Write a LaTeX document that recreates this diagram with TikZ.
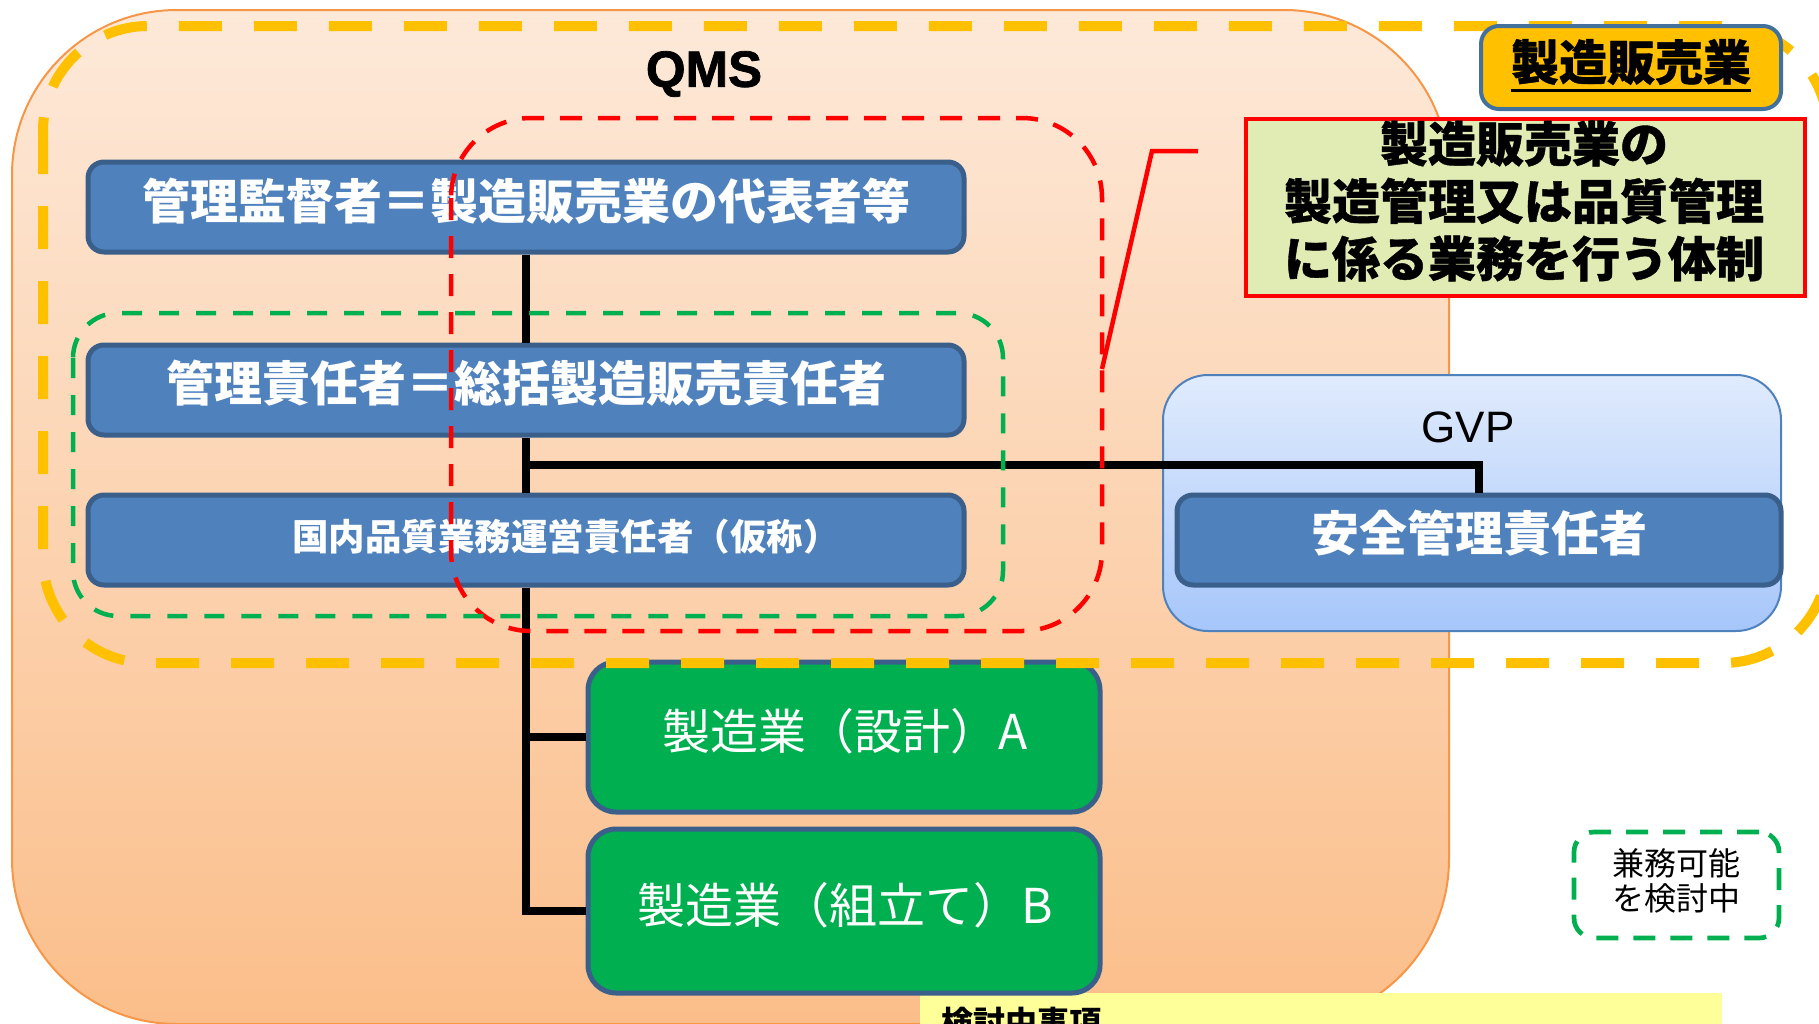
\documentclass[tikz,border=0pt]{standalone}
\usepackage{fontspec}
\setmainfont{Liberation Sans}
\newfontfamily\jp{Noto Sans CJK JP}
\newfontfamily\jph[BoldFeatures={FakeBold=0.8}]{Noto Sans CJK JP}
\newfontfamily\heavy[BoldFeatures={FakeBold=1.5}]{Liberation Sans}
\newcommand{\myfs}[2]{\fontsize{#1}{#2}\selectfont}
\definecolor{bluef}{HTML}{4F81BD}
\definecolor{blueb}{HTML}{3A5F8B}
\definecolor{greenf}{HTML}{00B050}
\definecolor{orangeb}{HTML}{F79646}
\definecolor{orTop}{HTML}{FDE9D9}
\definecolor{orBot}{HTML}{FBBE8A}
\definecolor{gvpTop}{HTML}{E0EBFD}
\definecolor{gvpBot}{HTML}{A6C6FA}
\definecolor{gvpb}{HTML}{4F81BD}
\definecolor{yel}{HTML}{FFC000}
\definecolor{lemon}{HTML}{FFFF99}
\definecolor{olive}{HTML}{E1EBB4}
\definecolor{labelb}{HTML}{41719C}
\tikzset{
  bbox/.style={rectangle,draw=blueb,line width=5pt,fill=bluef,rounded corners=16pt,inner sep=0pt},
  gbox/.style={rectangle,draw=blueb,line width=5pt,fill=greenf,rounded corners=28pt,inner sep=0pt},
  wbold/.style={text=white,inner sep=0pt,font=\jp\bfseries\myfs{48}{48}},
  wreg/.style={text=white,inner sep=0pt,font=\jp\myfs{48}{48}},
  conn/.style={line width=7.5pt,black},
  reddash/.style={draw=red,line width=4.5pt,dash pattern=on 22pt off 16pt},
  greendash/.style={draw=greenf,line width=4.5pt,dash pattern=on 20pt off 17pt},
  yeldash/.style={draw=yel,line width=10pt,dash pattern=on 43pt off 32pt},
}
\begin{document}
\begin{tikzpicture}[x=1pt,y=-1pt]
\useasboundingbox (0,0) rectangle (1819,1023);
\clip (0,0) rectangle (1819,1023);
% QMS background
\path[draw=orangeb,line width=2pt,top color=orTop,bottom color=orBot,rounded corners=165pt] (12,10) rectangle (1449,1024);
% bottom note box
\node[fill=lemon,minimum width=802pt,minimum height=70pt,anchor=north west,inner sep=0pt] (todo) at (920,993) {};
\node[anchor=north west,inner sep=0pt,font=\jp\bfseries\myfs{32}{32}] (todot) at (941,1007) {検討中事項};
% GVP
\node[rectangle,draw=gvpb,line width=2pt,top color=gvpTop,bottom color=gvpBot,rounded corners=45pt,minimum width=618pt,minimum height=256pt,inner sep=0pt] (gvp) at (1472,503) {};
\node[inner sep=0pt,font=\myfs{44}{44}] (gvpt) at (1468,427) {GVP};
% QMS title
\node[inner sep=0pt,font=\heavy\bfseries\myfs{51}{51}] (qms) at (704,74) {QMS};
% blue boxes
\node[bbox,minimum width=876pt,minimum height=90pt] (b1) at (526,207) {};
\node[bbox,minimum width=876pt,minimum height=90pt] (b2) at (526,390) {};
\node[bbox,minimum width=876pt,minimum height=90pt] (b3) at (526,540) {};
\node[bbox,minimum width=604pt,minimum height=90pt] (b4) at (1479,540) {};
% green boxes
\node[gbox,minimum width=512pt,minimum height=150pt] (bA) at (844,737) {};
\node[gbox,minimum width=512pt,minimum height=164pt] (bB) at (844,911) {};
% connectors
\coordinate (jg) at (526,465);
\draw[conn] (b1.south) -- (b2.north);
\draw[conn] (b2.south) -- (b3.north);
\draw[conn] (b3.south) -- (b3.south |- bB.west) -- (bB.west);
\draw[conn] (b3.south |- bA.west) -- (bA.west);
\draw[conn] (jg) -| (b4.north);
% texts
\node[wbold] (t1) at (526,201) {管理監督者＝製造販売業の代表者等};
\node[wbold] (t2) at (526,383) {管理責任者＝総括製造販売責任者};
\node[wbold,font=\jp\bfseries\myfs{36.5}{36.5}] (t3) at (566,537) {国内品質業務運営責任者（仮称）};
\node[wbold] (t4) at (1479,533) {安全管理責任者};
\node[wreg] (tA) at (845,731) {製造業（設計）A};
\node[wreg] (tB) at (845,905) {製造業（組立て）B};
% dashed groupings
\draw[reddash,rounded corners=80pt] (451,118) rectangle (1102,631);
\draw[greendash,rounded corners=45pt] (73,313) rectangle (1003,616);
\draw[yeldash,rounded corners=105pt] (43,26) rectangle (1828,663);
% label
\node[rectangle,draw=labelb,line width=4pt,fill=yel,rounded corners=18pt,minimum width=300pt,minimum height=83pt,inner sep=0pt] (lab) at (1631,67.5) {};
\node[inner sep=0pt,font=\jph\bfseries\myfs{48}{48}] (labt) at (1631,62) {製造販売業};
\draw[line width=3pt] ([yshift=-5pt]labt.south west) -- ([yshift=-5pt]labt.south east);
% red box
\node[rectangle,draw=red,line width=4.5pt,fill=olive,minimum width=559pt,minimum height=177pt,inner sep=0pt] (rb) at (1525.5,207.5) {};
\node[inner sep=0pt,align=center,font=\jph\bfseries\myfs{48}{57.5}] (rbt) at (1524,201) {製造販売業の\\製造管理又は品質管理\\に係る業務を行う体制};
\coordinate (c1) at (1198,151);
\coordinate (c2) at (1102,369);
\draw[red,line width=4.5pt] (c1) -- (1152,151) -- (c2);
% note box
\node[rectangle,draw=greenf,line width=4.7pt,dash pattern=on 22pt off 15pt,rounded corners=20pt,minimum width=205pt,minimum height=106pt,inner sep=0pt] (nb) at (1676.5,885) {};
\node[inner sep=0pt,align=center,font=\jp\myfs{32}{35}] (nbt) at (1676,881) {兼務可能\\を検討中};
\end{tikzpicture}
\end{document}
